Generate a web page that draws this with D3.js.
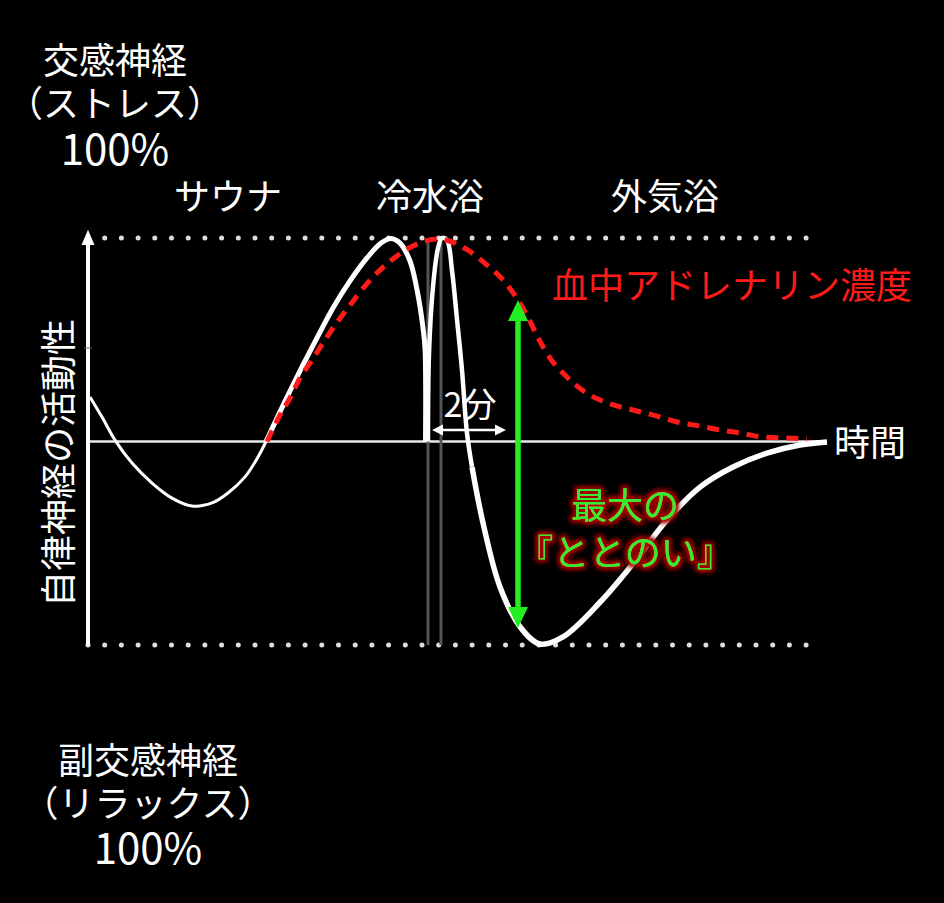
<!DOCTYPE html>
<html>
<head>
<meta charset="utf-8">
<script src="https://cdn.jsdelivr.net/npm/d3@7"></script>
<style>
  html, body { margin: 0; padding: 0; background: #000; }
  svg { display: block; }
  text { font-family: "Noto Sans CJK JP", "Noto Sans", sans-serif; }
</style>
</head>
<body>
<div id="viz"></div>
<script>
const width = 944;
const height = 903;

// time on x, autonomic activity on y (+100 = sympathetic 100%, -100 = parasympathetic 100%)
const saunaDip = [[0.2, 21.9], [1.4, 12], [2.7, 0.7], [4.4, -10.6], [6.4, -20.4], [8.4, -27.8], [10.4, -31.7],
    [12.4, -30.2], [14.0, -25.3], [15.7, -17.4], [17.0, -7.6], [17.8, 0]];
const saunaRise = [[17.8, 0], [18.9, 11.5], [20.2, 24.8], [21.5, 37.6], [22.9, 50.9], [24.5, 65.6], [26.2, 78.9],
    [27.9, 90.2], [29.3, 97.5], [30.3, 99.8], [31.2, 97.5], [32.2, 88.7], [33.0, 72], [33.5, 55.8], [33.7, 45.9], [33.75, 0]];
const coldSpike = [[34.0, 0], [34.1, 43], [34.5, 76], [35.0, 95], [35.4, 100], [35.9, 99], [36.4, 84],
    [36.9, 60], [37.4, 35], [37.9, 4], [38.4, -12.5]];
const outdoorRest = [[38.4, -12.5], [39.5, -40], [41.2, -71.5], [43.2, -91], [45.2, -99.5], [47.5, -96],
    [51.2, -79], [54.5, -60], [57.9, -38.6], [61.2, -22.4], [64.5, -12.5], [67.9, -5.7], [71.2, -1.7], [73.9, -0.2]];
const adrenaline = [[17.9, 0], [19.2, 13], [20.2, 21.4], [21.2, 31.2], [22.4, 40], [23.7, 49.9], [25.0, 59.2],
    [26.2, 67], [27.7, 76.4], [29.2, 84.3], [30.9, 91.2], [32.7, 96.6], [35.0, 99.5], [38.0, 94], [39.9, 86.7],
    [41.4, 80], [42.7, 71.7], [43.9, 62], [44.9, 52], [46.2, 41], [47.9, 31.7], [49.7, 24.3], [51.9, 19],
    [54.5, 15.5], [56.9, 12.5], [58.9, 9.6], [61.2, 7.6], [63.2, 5.7], [65.2, 4.2], [67.5, 2.2], [69.9, 1.7], [71.9, 1.2]];

const phases = ["サウナ", "冷水浴", "外気浴"];
const phaseTimes = [14, 34.2, 57.7];
const topLabel = ["交感神経", "（ストレス）", "100%"];
const bottomLabel = ["副交感神経", "（リラックス）", "100%"];
const peakLabel = ["最大の", "『ととのい』"];
const coldBathMarks = [34.0, 35.3];      // grey verticals around the cold bath
const twoMinSpan = [34.4, 41.8];         // 「2分」 arrow
const twoMinLevel = 5.6;
const maxDropTime = 43.0;                // green arrow
const maxDropRange = [69.5, -91.6];
const midTick = 46;

const svg = d3.select("#viz")
    .append("svg")
    .attr("width", width)
    .attr("height", height)
    .attr("viewBox", `0 0 ${width} ${height}`);

svg.append("rect").attr("width", width).attr("height", height).attr("fill", "#000");

const defs = svg.append("defs");
const glow = defs.append("filter").attr("id", "glow")
    .attr("x", "-20%").attr("y", "-30%").attr("width", "140%").attr("height", "160%");
glow.append("feMorphology").attr("in", "SourceAlpha").attr("operator", "dilate").attr("radius", 2).attr("result", "d");
glow.append("feGaussianBlur").attr("in", "d").attr("stdDeviation", 2.5).attr("result", "b");
glow.append("feFlood").attr("flood-color", "#a00000");
glow.append("feComposite").attr("in2", "b").attr("operator", "in").attr("result", "g");
const merge = glow.append("feMerge");
merge.append("feMergeNode").attr("in", "g");
merge.append("feMergeNode").attr("in", "g");
merge.append("feMergeNode").attr("in", "SourceGraphic");

const xScale = d3.scaleLinear().domain([0, 74]).range([88, 828]);
const yScale = d3.scaleLinear().domain([-100, 100]).range([645, 238]);

const smoothLine = d3.line()
    .curve(d3.curveCatmullRom.alpha(0.5))
    .x(d => xScale(d[0]))
    .y(d => yScale(d[1]));
const line = d3.line()
    .curve(d3.curveMonotoneX)
    .x(d => xScale(d[0]))
    .y(d => yScale(d[1]));

// dotted 100% guide lines
const dotStep = 16.7;
svg.append("line")
    .attr("x1", xScale(0) + dotStep).attr("x2", xScale(72))
    .attr("y1", yScale(100)).attr("y2", yScale(100))
    .attr("stroke", "#ddd").attr("stroke-width", 5)
    .attr("stroke-linecap", "round").attr("stroke-dasharray", `0 ${dotStep}`);
svg.append("line")
    .attr("x1", xScale(0)).attr("x2", xScale(72))
    .attr("y1", yScale(-100)).attr("y2", yScale(-100))
    .attr("stroke", "#ddd").attr("stroke-width", 5)
    .attr("stroke-linecap", "round").attr("stroke-dasharray", `0 ${dotStep}`);

// time axis (zero line)
svg.append("line")
    .attr("x1", xScale(0)).attr("x2", xScale(73.7))
    .attr("y1", yScale(0)).attr("y2", yScale(0))
    .attr("stroke", "#e8e8e8").attr("stroke-width", 2.5);

// grey cold bath markers
svg.selectAll(".cold-mark")
    .data(coldBathMarks)
    .enter()
    .append("line")
    .attr("class", "cold-mark")
    .attr("x1", d => xScale(d)).attr("x2", d => xScale(d))
    .attr("y1", yScale(100)).attr("y2", yScale(-100))
    .attr("stroke", "#555").attr("stroke-width", 3);

// y axis with arrow
svg.append("line")
    .attr("x1", xScale(0)).attr("x2", xScale(0))
    .attr("y1", yScale(-100)).attr("y2", yScale(98))
    .attr("stroke", "#fff").attr("stroke-width", 4);
svg.append("path")
    .attr("d", `M${xScale(0)},${yScale(104)} L${xScale(0) + 6.5},${yScale(96.5)} L${xScale(0) - 6.5},${yScale(96.5)} Z`)
    .attr("fill", "#fff");
svg.append("line")
    .attr("x1", xScale(0) - 4).attr("x2", xScale(0) + 4)
    .attr("y1", yScale(midTick)).attr("y2", yScale(midTick))
    .attr("stroke", "#666").attr("stroke-width", 1);

// autonomic activity curve
const whiteSegs = [
    { data: saunaDip, w: 3 },
    { data: saunaRise, w: 5 },
    { data: coldSpike, w: 4.5 },
    { data: outdoorRest, w: 5.5 }
];
svg.selectAll(".activity")
    .data(whiteSegs)
    .enter()
    .append("path")
    .attr("class", "activity")
    .attr("d", d => smoothLine(d.data))
    .attr("fill", "none")
    .attr("stroke", "#fff")
    .attr("stroke-width", d => d.w)
    .attr("stroke-linejoin", "round");

// adrenaline
svg.append("path")
    .attr("d", line(adrenaline))
    .attr("fill", "none")
    .attr("stroke", "#ff1a1a")
    .attr("stroke-width", 5)
    .attr("stroke-dasharray", "12 8");

// 2分 arrow
const ay = yScale(twoMinLevel);
const ax1 = xScale(twoMinSpan[0]);
const ax2 = xScale(twoMinSpan[1]);
svg.append("line")
    .attr("x1", ax1 + 6).attr("x2", ax2 - 6)
    .attr("y1", ay).attr("y2", ay)
    .attr("stroke", "#fff").attr("stroke-width", 2.5);
svg.append("path")
    .attr("d", `M${ax1},${ay} L${ax1 + 11},${ay - 5.5} L${ax1 + 11},${ay + 5.5} Z M${ax2},${ay} L${ax2 - 11},${ay - 5.5} L${ax2 - 11},${ay + 5.5} Z`)
    .attr("fill", "#fff");

// green arrow
const gx = xScale(maxDropTime);
const gy1 = yScale(maxDropRange[0]);
const gy2 = yScale(maxDropRange[1]);
svg.append("line")
    .attr("x1", gx).attr("x2", gx)
    .attr("y1", gy1 + 18).attr("y2", gy2 - 18)
    .attr("stroke", "#22ee22").attr("stroke-width", 5.5);
svg.append("path")
    .attr("d", `M${gx},${gy1} L${gx + 10},${gy1 + 21} L${gx - 10},${gy1 + 21} Z M${gx},${gy2} L${gx + 10},${gy2 - 21} L${gx - 10},${gy2 - 21} Z`)
    .attr("fill", "#22ee22");

function addText(str, x, y, size, color) {
    return svg.append("text")
        .attr("x", x).attr("y", y)
        .attr("text-anchor", "middle")
        .attr("dominant-baseline", "central")
        .attr("font-size", size)
        .attr("fill", color)
        .text(str);
}

// stacked multi-line label as one text element
function addBlock(lines, x, ys, sizes, color) {
    const t = svg.append("text")
        .attr("text-anchor", "middle")
        .attr("dominant-baseline", "central")
        .attr("fill", color);
    lines.forEach((s, i) => {
        t.append("tspan")
            .attr("x", x)
            .attr("y", ys[i])
            .attr("font-size", sizes[i])
            .attr("dominant-baseline", "central")
            .text(s);
    });
    return t;
}

addBlock(topLabel, 115, [58, 101, 146], [36, 36, 42], "#fff");

phases.forEach((p, i) => addText(p, xScale(phaseTimes[i]), 194, 36, "#fff"));

addText("血中アドレナリン濃度", 732, 283, 36, "#ff1a1a");
addText("時間", 870, 440, 36, "#fff");
addText("2分", 470, 402, 34, "#fff");

addText("自律神経の活動性", 0, 0, 36, "#fff").attr("transform", "translate(56,463) rotate(-90)");

addBlock(bottomLabel, 148, [758, 801, 845], [36, 36, 42], "#fff");

addBlock(peakLabel, 625, [503, 550], [36, 36], "#33ee33").attr("filter", "url(#glow)");
</script>
</body>
</html>
